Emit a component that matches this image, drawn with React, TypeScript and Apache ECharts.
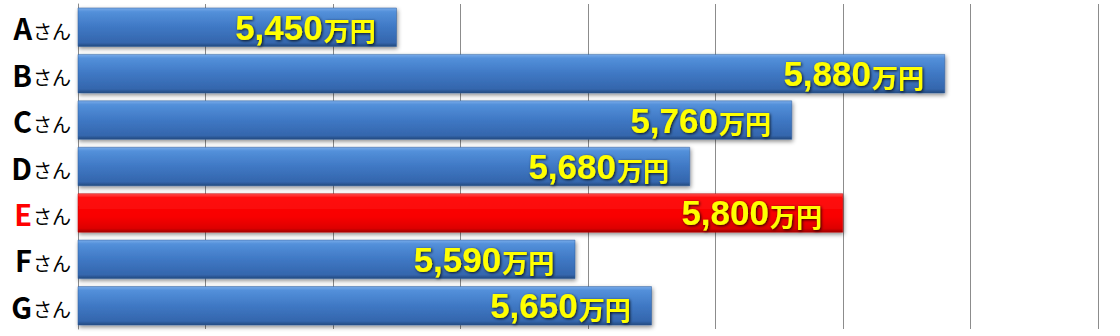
import React, { useEffect, useRef } from "react";
import * as echarts from "echarts";

const categories = ["A", "B", "C", "D", "E", "F", "G"];
const values = [5450, 5880, 5760, 5680, 5800, 5590, 5650];
const highlight = "E";
const xMin = 5200;
const xMax = 6000;
const xInterval = 100;

const blueGrad = () =>
  new echarts.graphic.LinearGradient(0, 0, 0, 1, [
    { offset: 0, color: "#79abe9" },
    { offset: 0.1, color: "#5390da" },
    { offset: 0.5, color: "#3f78c4" },
    { offset: 0.9, color: "#3466ad" },
    { offset: 1, color: "#23497e" },
  ]);
const redGrad = () =>
  new echarts.graphic.LinearGradient(0, 0, 0, 1, [
    { offset: 0, color: "#ff5050" },
    { offset: 0.1, color: "#ff1010" },
    { offset: 0.6, color: "#f80000" },
    { offset: 0.9, color: "#dd0000" },
    { offset: 1, color: "#a00000" },
  ]);

const numFont = "'Liberation Sans', Arial, sans-serif";
const jpFont = "'Noto Sans CJK JP', sans-serif";

export default function App() {
  const ref = useRef<HTMLDivElement>(null);
  useEffect(() => {
    const chart = echarts.init(ref.current!, undefined, { renderer: "svg" });
    const fmt = (v: number) => v.toLocaleString("en-US");
    const shadow = {
      textShadowColor: "rgba(0,0,0,0.85)",
      textShadowBlur: 3,
      textShadowOffsetX: 1,
      textShadowOffsetY: 1,
    };
    chart.setOption({
      animation: false,
      grid: { left: 78, right: 22, top: 4, bottom: 7 },
      xAxis: {
        type: "value",
        min: xMin,
        max: xMax,
        interval: xInterval,
        axisLabel: { show: false },
        axisLine: { show: false },
        axisTick: { show: false },
        splitLine: { show: true, lineStyle: { color: "#8c8c8c", width: 1 } },
      },
      yAxis: {
        type: "category",
        inverse: true,
        data: categories,
        axisLine: { show: true, lineStyle: { color: "#8c8c8c" } },
        axisTick: { show: false },
        axisLabel: {
          margin: 7,
          formatter: (v: string) =>
            v === highlight ? `{r|${v}}{s|さん}` : `{b|${v}}{s|さん}`,
          rich: {
            b: { fontSize: 29, fontWeight: "bold", color: "#000", fontFamily: jpFont },
            r: { fontSize: 29, fontWeight: "bold", color: "#ff0000", fontFamily: jpFont },
            s: { fontSize: 19, color: "#000", fontFamily: jpFont, padding: [6, 0, 0, 1] },
          },
        },
      },
      series: [
        {
          type: "bar",
          barCategoryGap: "16%",
          data: values.map((v, i) => ({
            value: v,
            itemStyle: {
              color: categories[i] === highlight ? redGrad() : blueGrad(),
              borderColor: categories[i] === highlight ? "#c00000" : "#2e5c9a",
              borderWidth: 0.5,
              shadowColor: "rgba(0,0,0,0.45)",
              shadowBlur: 4,
              shadowOffsetX: 1,
              shadowOffsetY: 2,
            },
          })),
          label: {
            show: true,
            position: "insideRight",
            distance: 21,
            formatter: (p: any) => `{n|${fmt(p.value)}}{u|万円}`,
            rich: {
              n: {
                fontSize: 35,
                fontWeight: "bold",
                color: "#ffff00",
                fontFamily: numFont,
                ...shadow,
              },
              u: {
                fontSize: 26,
                fontWeight: "bold",
                color: "#ffff00",
                fontFamily: jpFont,
                padding: [5, 0, 0, 1],
                ...shadow,
              },
            },
          },
        },
      ],
    });
    return () => chart.dispose();
  }, []);
  return <div ref={ref} style={{ width: 1120, height: 336, position: "absolute", left: 0, top: 0 }} />;
}
